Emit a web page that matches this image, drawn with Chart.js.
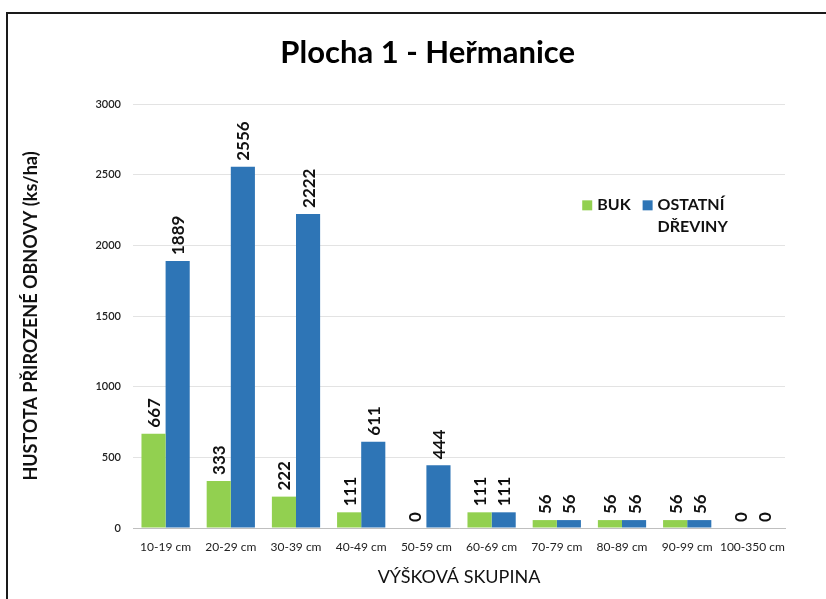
<!DOCTYPE html>
<html lang="cs">
<head>
    <meta charset="UTF-8">
    <title>Plocha 1 - Heřmanice</title>
    <script src="https://cdn.jsdelivr.net/npm/chart.js"></script>
    <style>
        html, body {
            margin: 0;
            padding: 0;
            background: #fff;
            overflow: hidden;
        }
        #wrap {
            position: relative;
            width: 826px;
            height: 599px;
        }
        #frame {
            position: absolute;
            left: 6px;
            top: 12px;
            width: 830px;
            height: 620px;
            border: 2px solid #1a1a1a;
            box-sizing: border-box;
            pointer-events: none;
        }
        canvas { position: absolute; left: 0; top: 0; }
    </style>
</head>
<body>
    <div id="wrap">
        <canvas id="chart" width="826" height="599"></canvas>
        <div id="frame"></div>
    </div>

    <script>
        const chartTitle = 'Plocha 1 - Heřmanice';
        const categories = ['10-19 cm', '20-29 cm', '30-39 cm', '40-49 cm', '50-59 cm',
                            '60-69 cm', '70-79 cm', '80-89 cm', '90-99 cm', '100-350 cm'];
        const bukValues = [667, 333, 222, 111, 0, 111, 56, 56, 56, 0];
        const ostatniValues = [1889, 2556, 2222, 611, 444, 111, 56, 56, 56, 0];
        const seriesNames = ['BUK', ['OSTATNÍ', 'DŘEVINY']];
        const xAxisTitle = 'VÝŠKOVÁ SKUPINA';
        const yAxisTitle = 'HUSTOTA PŘIROZENÉ OBNOVY (ks/ha)';

        const FONT = 'Lato, "Open Sans", sans-serif';

        // title drawn over the plot, a bit left of the plot center (like the excel original)
        const titlePlugin = {
            id: 'bigTitle',
            afterDraw(chart) {
                const { ctx, chartArea } = chart;
                ctx.save();
                ctx.font = 'bold 31px ' + FONT;
                ctx.fillStyle = '#000';
                ctx.textAlign = 'center';
                ctx.textBaseline = 'middle';
                const x = chartArea.left + (chartArea.right - chartArea.left) * 0.452;
                ctx.fillText(chartTitle, x, 53);
                ctx.restore();
            }
        };

        // vertical value labels above each bar
        const valueLabels = {
            id: 'valueLabels',
            afterDatasetsDraw(chart) {
                const { ctx } = chart;
                ctx.save();
                ctx.font = 'bold 17px ' + FONT;
                ctx.fillStyle = '#111';
                ctx.textAlign = 'left';
                ctx.textBaseline = 'middle';
                chart.data.datasets.forEach((ds, i) => {
                    chart.getDatasetMeta(i).data.forEach((bar, j) => {
                        ctx.save();
                        ctx.translate(bar.x, bar.y - 6);
                        ctx.rotate(-Math.PI / 2);
                        ctx.fillText(String(ds.data[j]), 0, 1);
                        ctx.restore();
                    });
                });
                ctx.restore();
            }
        };

        // legend inside the plot, second label wraps to two lines
        const insideLegend = {
            id: 'insideLegend',
            afterDraw(chart) {
                const { ctx, chartArea } = chart;
                const w = chartArea.right - chartArea.left;
                const h = chartArea.bottom - chartArea.top;
                let x = chartArea.left + w * 0.689;
                const y = chartArea.top + h * 0.239;
                ctx.save();
                ctx.font = 'bold 16px ' + FONT;
                ctx.textBaseline = 'middle';
                ctx.textAlign = 'left';
                chart.data.datasets.forEach((ds, i) => {
                    ctx.fillStyle = ds.backgroundColor;
                    ctx.fillRect(x, y - 5, 10, 10);
                    ctx.fillStyle = '#111';
                    const lines = Array.isArray(seriesNames[i]) ? seriesNames[i] : [seriesNames[i]];
                    lines.forEach((t, k) => ctx.fillText(t, x + 15, y + k * 22));
                    x += 15 + ctx.measureText(lines[0]).width + 12;
                });
                ctx.restore();
            }
        };

        new Chart(document.getElementById('chart'), {
            type: 'bar',
            data: {
                labels: categories,
                datasets: [
                    { label: 'BUK', data: bukValues, backgroundColor: '#92D050' },
                    { label: 'OSTATNÍ DŘEVINY', data: ostatniValues, backgroundColor: '#2E75B6' }
                ]
            },
            options: {
                responsive: false,
                animation: false,
                layout: { padding: { top: 104, left: 12, right: 41, bottom: 0 } },
                datasets: { bar: { categoryPercentage: 0.74, barPercentage: 1.0 } },
                plugins: {
                    legend: { display: false },
                    title: { display: false },
                    tooltip: { enabled: false }
                },
                scales: {
                    x: {
                        grid: { display: false, drawTicks: false },
                        border: { display: true, color: '#bfbfbf', width: 1 },
                        ticks: { font: { family: FONT, size: 12 }, color: '#222', padding: 12, maxRotation: 0, autoSkip: false },
                        title: { display: true, text: xAxisTitle, font: { family: FONT, size: 18 }, color: '#111', padding: { top: 0, bottom: 11 } },
                        afterFit(scale) { scale.height = 71; }
                    },
                    y: {
                        min: 0,
                        max: 3000,
                        ticks: {
                            stepSize: 500,
                            font: { family: FONT, size: 11, weight: '600' },
                            color: '#222',
                            padding: 12,
                            callback: (v) => String(v)
                        },
                        grid: { color: '#e3e3e3', drawTicks: false },
                        border: { display: false },
                        title: { display: true, text: yAxisTitle, font: { family: FONT, size: 18, weight: 'bold' }, color: '#111', padding: { top: 8, bottom: 4 } },
                        afterFit(scale) { scale.width = 121; }
                    }
                }
            },
            plugins: [titlePlugin, valueLabels, insideLegend]
        });
    </script>
</body>
</html>
